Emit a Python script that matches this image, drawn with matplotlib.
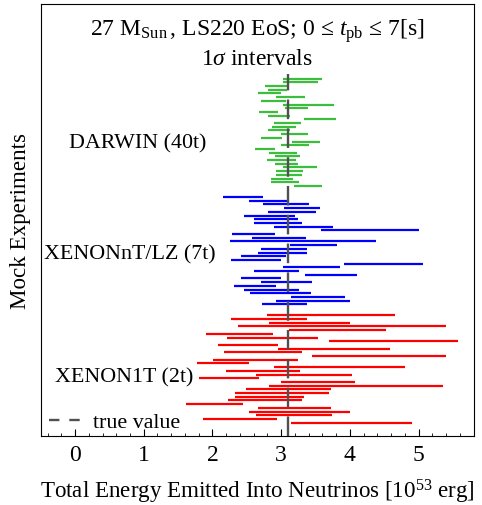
import numpy as np
import matplotlib
matplotlib.use('Agg')
from matplotlib import pyplot as plt
from matplotlib.lines import Line2D
from matplotlib.ticker import MultipleLocator

plt.rcParams['font.family'] = ['Liberation Serif', 'DejaVu Serif']
plt.rcParams['mathtext.fontset'] = 'custom'
plt.rcParams['mathtext.rm'] = 'Liberation Serif'
plt.rcParams['mathtext.it'] = 'Liberation Serif:italic'
plt.rcParams['mathtext.bf'] = 'Liberation Serif:bold'

#1 sigma intervals of the total energy for each mock experiment (10^53 erg)
darwin_lo = [3.03, 3.02, 2.76, 2.81, 2.67, 2.92, 2.71, 3.03, 3.05, 2.68,
             2.81, 3.33, 2.89, 2.87, 2.81, 3.00, 2.70, 3.16, 3.00, 2.62,
             2.83, 2.91, 2.80, 2.91, 3.03, 2.92, 2.93, 2.85, 2.85, 3.19]
darwin_hi = [3.59, 3.54, 3.09, 3.09, 3.00, 3.35, 3.07, 3.77, 3.39, 2.95,
             3.13, 3.80, 3.29, 3.21, 3.13, 3.39, 3.01, 3.57, 3.40, 2.91,
             3.23, 3.27, 3.21, 3.24, 3.52, 3.32, 3.31, 3.17, 3.26, 3.59]

nt_lo = [2.16, 2.53, 2.73, 3.04, 2.81, 2.46, 2.60, 2.60, 2.89, 3.58,
         2.28, 2.58, 2.25, 3.13, 2.71, 2.67, 2.41, 2.27, 3.91, 3.02,
         2.60, 3.34, 2.42, 2.71, 2.32, 2.46, 2.54, 3.14, 2.93, 2.72]
nt_hi = [2.74, 3.09, 3.40, 3.57, 3.51, 3.20, 3.25, 3.31, 3.75, 5.00,
         2.91, 3.36, 4.38, 3.81, 3.38, 3.37, 3.07, 3.00, 5.07, 3.85,
         3.26, 4.11, 3.00, 3.45, 2.92, 3.26, 3.44, 3.93, 4.00, 3.37]

x1t_lo = [2.79, 2.27, 2.82, 2.37, 3.12, 1.91, 2.21, 3.69, 2.08, 2.95,
          2.17, 3.45, 2.01, 1.78, 2.90, 2.20, 2.64, 1.80, 3.00, 2.82,
          2.49, 2.33, 2.33, 2.23, 1.61, 2.67, 2.53, 2.64, 1.86, 3.15]
x1t_hi = [4.65, 3.38, 4.00, 5.40, 4.52, 2.88, 3.53, 5.57, 2.95, 4.59,
          3.30, 5.40, 3.24, 2.53, 4.81, 3.27, 4.03, 2.68, 4.08, 5.36,
          3.72, 3.70, 3.33, 3.31, 2.44, 3.73, 4.00, 3.74, 2.94, 4.91]

true_value = 3.1

groups = [('DARWIN (40t)', darwin_lo, darwin_hi, '#3dbd3d'),
          ('XENONnT/LZ (7t)', nt_lo, nt_hi, '#0000ff'),
          ('XENON1T (2t)', x1t_lo, x1t_hi, '#ff0000')]

fig = plt.figure(figsize=(4.82, 5.06), dpi=100)
ax = fig.add_axes([0.0844, 0.1364, 0.898, 0.8538])

#stack the experiments top to bottom, two empty rows between groups
row = 0
for name, lo, hi, col in groups:
    ys = row + np.arange(len(lo))
    ax.hlines(ys, lo, hi, colors=col, lw=1.6, zorder=2)
    row += len(lo) + 2

ax.set_ylim(96.6, -20.2)
ax.set_xlim(-0.5, 5.8)

ax.vlines(true_value, 96.6, -1.3, colors='#505050', lw=1.7,
          linestyles=(0, (8.3, 3.9)), zorder=3)

ax.text(-0.087, 18.5, 'DARWIN (40t)', fontsize=15.8, va='baseline')
ax.text(-0.45, 48.5, 'XENONnT/LZ (7t)', fontsize=15.8, va='baseline')
ax.text(-0.29, 82.0, 'XENON1T (2t)', fontsize=15.8, va='baseline')

ax.text(0.5, -12.0, r'27 $\mathrm{M}_{\mathrm{Sun}}$$\,$, LS220 EoS; 0 ≤ $t_{\mathrm{pb}}$ ≤ 7[s]',
        fontsize=17, ha='center', va='baseline', transform=ax.get_yaxis_transform())
ax.text(0.5, -4.1, r'1$\sigma$ intervals', fontsize=17, ha='center', va='baseline',
        transform=ax.get_yaxis_transform())

proxy = Line2D([], [], color='#505050', lw=1.7, linestyle=(0, (4.4, 4.2)))
ax.legend(handles=[proxy], labels=['true value'], loc='lower left', frameon=False,
          fontsize=15.8, handlelength=1.4, handletextpad=0.6, borderaxespad=0,
          bbox_to_anchor=(0.0, -0.012))

ax.set_yticks([])
ax.xaxis.set_major_locator(MultipleLocator(1))
ax.xaxis.set_minor_locator(MultipleLocator(0.2))
ax.tick_params(axis='x', which='major', direction='in', length=5, labelsize=17, pad=6)
ax.tick_params(axis='x', which='minor', direction='in', length=2.5)
ax.set_xlabel(r'Total Energy Emitted Into Neutrinos [10$^{53}$ erg]', fontsize=16.6, labelpad=8)
ax.set_ylabel('Mock Experiments', fontsize=16.6, labelpad=7)

plt.savefig('out.png', dpi=100)
